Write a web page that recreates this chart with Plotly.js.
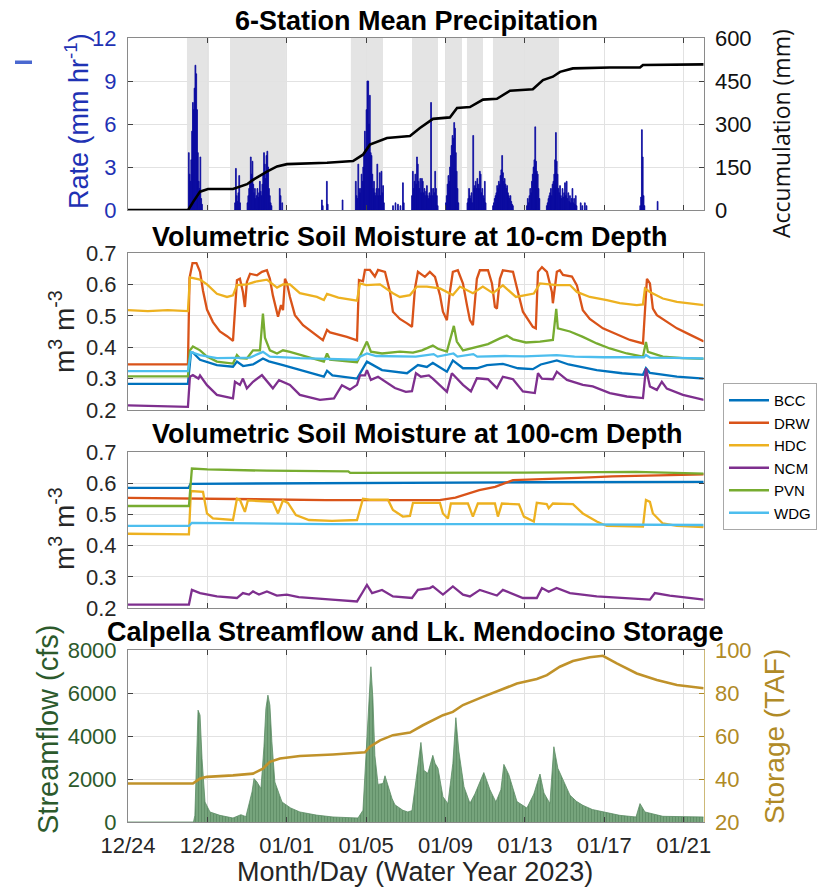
<!DOCTYPE html>
<html><head><meta charset="utf-8">
<script src="https://cdn.plot.ly/plotly-3.0.1.min.js"></script>
<style>html,body{margin:0;padding:0;background:#fff}#chart{width:819px;height:890px}</style>
</head><body><div id="chart"></div>
<script>
// ---------- time helpers (days since 2022-12-24 00:00) ----------
const T0 = Date.UTC(2022, 11, 24);
const DAY = 86400000;
function t(d) { return T0 + d * DAY; }

// ---------- x ticks ----------
const tickDays = [0, 4, 8, 12, 16, 20, 24, 28];
const tickLabels = ['12/24', '12/28', '01/01', '01/05', '01/09', '01/13', '01/17', '01/21'];

// ---------- panel 1: precipitation ----------
// hourly rate events: start hour and consecutive hourly values (mm/hr)
const precipEventStart = [73, 129, 144, 183, 186, 234, 240, 259, 275, 320, 323, 326, 329, 332, 343, 384, 410, 441, 482, 506, 547, 549, 552, 554, 619, 640];
const precipEventRates = [
  [4.0, 2.5, 2.0, 3.5, 5.5, 7.5, 7.0, 8.5, 10.1, 9.5, 7.0, 4.0, 2.0, 1.5, 3.7, 0.8, 0.4],
  [0.5, 2.9, 1.0, 0.6, 1.2, 2.4, 0.5],
  [0.5, 1.0, 1.5, 2.0, 3.7, 2.5, 3.4, 1.8, 1.2, 1.5, 0.8, 1.0, 1.5, 0.9, 1.2, 2.0, 1.3, 1.0, 1.8, 2.5, 4.0, 3.2, 2.2, 3.8, 4.1, 3.0, 1.5, 1.0, 0.5, 0.3],
  [1.5, 1.0],
  [0.5],
  [0.7, 0.3],
  [2.0, 0.4],
  [0.7],
  [2.0, 1.0, 0.8, 3.2, 1.5, 1.2, 1.5, 2.5, 2.0, 3.0, 3.8, 5.5, 4.0, 7.0, 9.0, 9.0, 6.0, 8.0, 4.0, 3.8, 2.5, 1.5, 2.0, 1.2, 1.0, 1.5, 3.2, 1.0, 1.5, 2.6, 1.0, 2.7, 1.2, 1.7, 0.5],
  [0.3], [0.5], [0.4], [0.3],
  [1.9, 0.5],
  [1.0, 2.7, 1.5, 2.0, 2.5, 1.8, 3.7, 3.2, 2.0, 1.5, 2.2, 1.2, 2.2, 2.0, 1.2, 1.5, 1.0, 1.3, 1.7, 1.0, 0.8, 1.2, 1.0, 7.5, 1.5, 1.0, 1.5, 1.2, 2.7, 1.5, 1.0, 0.3],
  [0.5, 1.0, 1.8, 2.4, 2.0, 3.0, 3.8, 4.5, 5.2, 5.0, 6.1, 5.7, 4.0, 2.7, 1.5, 0.5],
  [0.5, 0.8, 1.5, 1.0, 0.8, 1.2, 0.5, 5.2, 1.5, 1.7, 2.0, 1.5, 2.2, 1.8, 1.5, 2.7, 2.5, 1.2, 1.5, 1.0, 0.8, 2.0, 0.5],
  [0.3, 0.5, 0.8, 1.0, 1.2, 1.7, 1.5, 2.0, 1.8, 2.4, 2.8, 3.8, 2.6, 2.0, 2.2, 1.8, 1.5, 1.7, 1.2, 1.0, 0.8, 1.0, 0.6, 0.4, 0.3],
  [0.3, 0.8, 0.5, 1.0, 1.5, 1.2, 2.0, 2.5, 3.0, 3.5, 5.8, 3.4, 2.7, 2.5, 1.5, 0.8],
  [0.3, 0.5, 0.8, 1.0, 1.2, 1.5, 1.0, 1.8, 2.0, 2.5, 3.5, 5.4, 3.4, 2.5, 1.5, 1.2, 1.7, 1.0, 0.8, 1.5, 0.9, 1.2, 1.9, 1.0, 2.0, 0.8, 1.2, 0.6, 1.0, 0.5, 0.8, 1.5, 0.5, 0.8, 0.4, 1.0, 0.3],
  [0.5], [0.3], [0.5], [0.3],
  [0.3, 0.9, 5.6, 3.7, 1.0, 0.3],
  [0.6]
];
// cumulative precipitation (mm)
const accumDay = [0, 3.03, 3.3, 3.63, 4.03, 5.29, 6.0, 6.3, 7.0, 7.51, 8.01, 10.03, 11.34, 11.84, 12.19, 13.05, 14.21, 14.71, 15.37, 16.22, 16.58, 17.23, 17.89, 18.59, 19.25, 20.4, 20.91, 21.41, 21.77, 22.42, 24.28, 25.8, 25.95, 28.82, 29.02];
const accumMM = [0, 0, 30, 64, 73, 73, 90, 105, 134, 152, 160, 165, 171, 193, 228, 251, 258, 286, 318, 323, 356, 359, 385, 388, 416, 421, 453, 465, 482, 494, 497, 497, 506, 508, 508];
// shaded periods (days)
const bandStart = [2.97, 5.14, 11.23, 14.31, 16.02, 17.08, 18.39];
const bandEnd = [4.08, 7.96, 12.85, 15.62, 16.83, 17.89, 21.72];

// ---------- panel 2: soil moisture 10 cm ----------
const stations = ['BCC', 'DRW', 'HDC', 'NCM', 'PVN', 'WDG'];
const stationColors = ['#0072BD', '#D95319', '#EDB120', '#7E2F8E', '#77AC30', '#4DBEEE'];

const bcc10Day = [0, 3.02, 3.17, 3.27, 3.63, 4.48, 5.29, 5.49, 5.8, 6.3, 6.8, 7.1, 7.81, 8.66, 9.52, 9.87, 10.03, 10.3, 11.54, 12.04, 12.8, 13.5, 14.06, 14.61, 15.06, 15.36, 16.07, 16.37, 16.88, 17.58, 18.09, 18.89, 19.65, 20.4, 20.8, 21.61, 22.2, 23.62, 24.9, 25.95, 26.1, 26.3, 27.66, 29.02];
const bcc10Val = [0.283, 0.283, 0.38, 0.383, 0.36, 0.343, 0.338, 0.354, 0.34, 0.345, 0.364, 0.355, 0.343, 0.327, 0.311, 0.306, 0.325, 0.31, 0.30, 0.354, 0.327, 0.322, 0.317, 0.343, 0.337, 0.35, 0.322, 0.358, 0.333, 0.333, 0.343, 0.347, 0.333, 0.33, 0.345, 0.358, 0.345, 0.327, 0.317, 0.312, 0.333, 0.318, 0.306, 0.30];

const drw10Day = [0, 3.02, 3.1, 3.25, 3.45, 3.63, 3.78, 3.98, 4.28, 4.63, 4.99, 5.29, 5.49, 5.64, 5.79, 5.89, 5.99, 6.15, 6.5, 6.75, 7.0, 7.15, 7.3, 7.51, 7.56, 7.71, 7.81, 7.91, 8.01, 8.16, 8.41, 8.82, 9.52, 9.82, 10.03, 10.18, 11.03, 11.54, 11.64, 11.84, 11.94, 12.19, 12.44, 12.6, 12.95, 13.2, 13.35, 13.7, 14.06, 14.31, 14.46, 14.61, 14.96, 15.21, 15.47, 15.72, 15.87, 16.07, 16.22, 16.37, 16.62, 16.88, 17.08, 17.23, 17.38, 17.58, 17.73, 18.14, 18.34, 18.49, 18.59, 18.74, 18.89, 19.4, 19.65, 19.9, 20.4, 20.55, 20.66, 20.86, 21.11, 21.36, 21.41, 21.61, 21.76, 21.92, 22.37, 22.62, 22.92, 23.27, 23.93, 24.63, 25.29, 25.95, 26.05, 26.15, 26.3, 26.45, 26.65, 27.15, 27.66, 28.31, 29.02];
const drw10Val = [0.345, 0.345, 0.62, 0.668, 0.668, 0.64, 0.58, 0.52, 0.48, 0.45, 0.435, 0.42, 0.613, 0.618, 0.576, 0.528, 0.608, 0.634, 0.629, 0.64, 0.645, 0.618, 0.565, 0.507, 0.497, 0.534, 0.518, 0.618, 0.603, 0.56, 0.502, 0.47, 0.438, 0.422, 0.455, 0.447, 0.433, 0.422, 0.614, 0.61, 0.646, 0.646, 0.625, 0.646, 0.64, 0.577, 0.513, 0.49, 0.476, 0.465, 0.587, 0.64, 0.624, 0.64, 0.624, 0.566, 0.513, 0.486, 0.576, 0.64, 0.645, 0.603, 0.534, 0.486, 0.47, 0.618, 0.645, 0.645, 0.603, 0.528, 0.523, 0.618, 0.645, 0.64, 0.576, 0.513, 0.465, 0.46, 0.64, 0.655, 0.64, 0.576, 0.54, 0.64, 0.645, 0.63, 0.625, 0.597, 0.518, 0.49, 0.46, 0.44, 0.423, 0.412, 0.523, 0.618, 0.603, 0.523, 0.502, 0.48, 0.46, 0.44, 0.418];

const hdc10Day = [0, 1.0, 2.0, 3.02, 3.12, 3.63, 3.98, 4.48, 4.99, 5.29, 5.49, 6.0, 6.5, 7.0, 7.51, 7.81, 8.16, 8.66, 9.52, 9.87, 10.03, 10.6, 11.54, 11.69, 12.0, 12.7, 13.35, 13.7, 14.21, 14.56, 15.06, 15.72, 16.37, 16.73, 17.38, 17.88, 18.39, 18.89, 19.55, 20.45, 20.76, 21.61, 22.27, 22.62, 23.27, 24.13, 24.78, 25.64, 25.95, 26.05, 26.3, 26.95, 27.66, 28.31, 29.02];
const hdc10Val = [0.518, 0.515, 0.518, 0.515, 0.622, 0.615, 0.60, 0.57, 0.56, 0.565, 0.598, 0.60, 0.61, 0.615, 0.59, 0.60, 0.60, 0.572, 0.56, 0.55, 0.57, 0.558, 0.548, 0.603, 0.598, 0.60, 0.572, 0.56, 0.566, 0.593, 0.593, 0.587, 0.566, 0.593, 0.572, 0.593, 0.572, 0.597, 0.56, 0.571, 0.603, 0.598, 0.598, 0.576, 0.56, 0.55, 0.54, 0.534, 0.536, 0.587, 0.576, 0.555, 0.544, 0.539, 0.534];

const ncm10Day = [0, 3.02, 3.12, 3.27, 3.55, 3.63, 3.98, 4.48, 5.29, 5.39, 5.64, 5.79, 5.99, 6.3, 6.75, 7.3, 7.61, 8.16, 8.66, 9.67, 10.38, 10.78, 11.18, 11.54, 11.69, 11.94, 12.04, 12.24, 12.6, 12.95, 13.45, 14.0, 14.31, 14.51, 14.76, 15.16, 15.36, 16.07, 16.32, 16.88, 17.28, 17.58, 18.14, 18.59, 18.89, 19.4, 19.9, 20.5, 20.66, 20.86, 21.41, 21.61, 22.12, 22.92, 23.42, 24.28, 25.14, 25.95, 26.1, 26.3, 26.65, 26.9, 27.15, 27.96, 29.02];
const ncm10Val = [0.215, 0.21, 0.306, 0.311, 0.30, 0.31, 0.279, 0.248, 0.237, 0.29, 0.28, 0.30, 0.269, 0.29, 0.311, 0.269, 0.295, 0.28, 0.248, 0.232, 0.237, 0.279, 0.265, 0.28, 0.31, 0.31, 0.327, 0.296, 0.306, 0.29, 0.27, 0.258, 0.26, 0.317, 0.306, 0.31, 0.30, 0.258, 0.317, 0.28, 0.259, 0.301, 0.298, 0.27, 0.306, 0.298, 0.259, 0.254, 0.317, 0.30, 0.298, 0.322, 0.296, 0.28, 0.275, 0.254, 0.243, 0.238, 0.333, 0.275, 0.264, 0.29, 0.268, 0.248, 0.232];

const pvn10Day = [0, 3.02, 3.12, 3.27, 3.63, 3.98, 4.48, 5.29, 5.49, 5.64, 5.99, 6.3, 6.65, 6.8, 6.9, 7.15, 7.51, 7.81, 8.16, 9.52, 9.87, 10.03, 10.18, 11.54, 12.04, 12.24, 12.8, 13.7, 14.36, 14.81, 15.36, 15.62, 16.07, 16.42, 16.57, 16.88, 17.63, 18.14, 18.74, 19.09, 19.4, 20.05, 20.76, 21.41, 21.58, 21.66, 22.27, 22.92, 23.62, 24.28, 25.14, 25.95, 26.1, 26.2, 26.95, 27.96, 29.02];
const pvn10Val = [0.307, 0.307, 0.39, 0.402, 0.39, 0.37, 0.354, 0.348, 0.375, 0.365, 0.364, 0.39, 0.39, 0.507, 0.43, 0.39, 0.38, 0.39, 0.385, 0.36, 0.354, 0.38, 0.36, 0.352, 0.418, 0.386, 0.38, 0.386, 0.383, 0.39, 0.405, 0.395, 0.386, 0.468, 0.418, 0.39, 0.402, 0.41, 0.428, 0.437, 0.425, 0.415, 0.418, 0.423, 0.522, 0.46, 0.45, 0.433, 0.412, 0.396, 0.38, 0.37, 0.417, 0.385, 0.37, 0.365, 0.363];

const wdg10Day = [0, 3.02, 3.17, 3.63, 4.48, 5.29, 6.15, 6.8, 7.15, 8.66, 10.18, 11.54, 11.69, 12.04, 12.5, 13.7, 14.5, 15.4, 15.6, 16.4, 16.6, 17.4, 17.6, 19.0, 20.0, 21.6, 22.5, 24.0, 26.0, 26.1, 26.3, 27.5, 29.02];
const wdg10Val = [0.324, 0.324, 0.385, 0.375, 0.365, 0.365, 0.367, 0.385, 0.37, 0.365, 0.362, 0.36, 0.37, 0.38, 0.372, 0.37, 0.37, 0.378, 0.37, 0.38, 0.37, 0.378, 0.37, 0.372, 0.371, 0.375, 0.37, 0.368, 0.368, 0.375, 0.367, 0.366, 0.364];

// ---------- panel 3: soil moisture 100 cm ----------
const bcc100Day = [0, 3.05, 3.15, 10, 20, 29.02];
const bcc100Val = [0.585, 0.585, 0.598, 0.601, 0.603, 0.604];
const drw100Day = [0, 5, 10, 15.7, 16.5, 17.7, 18.5, 19.4, 21.0, 22.7, 24.4, 29.02];
const drw100Val = [0.553, 0.549, 0.546, 0.546, 0.554, 0.578, 0.588, 0.61, 0.613, 0.617, 0.622, 0.628];
const hdc100Day = [0, 3.07, 3.17, 3.78, 3.98, 4.28, 5.29, 5.49, 5.64, 5.89, 6.04, 7.3, 7.56, 7.81, 8.06, 8.46, 9.12, 10.28, 11.54, 11.84, 12.19, 13.1, 13.35, 13.85, 14.21, 14.36, 15.72, 15.87, 16.12, 16.27, 17.13, 17.38, 17.63, 18.49, 18.64, 18.84, 19.7, 19.95, 20.45, 20.6, 21.1, 21.2, 21.41, 22.42, 22.92, 23.62, 24.13, 25.95, 26.1, 26.3, 26.45, 26.95, 27.66, 29.02];
const hdc100Val = [0.438, 0.436, 0.575, 0.572, 0.503, 0.487, 0.482, 0.55, 0.547, 0.508, 0.545, 0.54, 0.503, 0.545, 0.537, 0.498, 0.482, 0.479, 0.482, 0.55, 0.547, 0.547, 0.514, 0.493, 0.495, 0.537, 0.537, 0.503, 0.487, 0.535, 0.535, 0.493, 0.535, 0.535, 0.493, 0.535, 0.532, 0.493, 0.477, 0.537, 0.533, 0.52, 0.535, 0.533, 0.503, 0.477, 0.463, 0.461, 0.546, 0.54, 0.503, 0.471, 0.463, 0.459];
const ncm100Day = [0, 3.07, 3.22, 3.63, 4.48, 5.49, 5.79, 6.1, 6.3, 6.6, 7.0, 7.5, 8.0, 8.6, 10.28, 11.54, 11.8, 12.04, 12.3, 12.8, 13.35, 14.31, 14.61, 15.21, 15.36, 15.87, 16.37, 16.88, 17.23, 17.73, 18.59, 18.89, 19.9, 20.6, 20.86, 21.2, 21.6, 22.27, 23.62, 25.14, 26.3, 26.55, 27.3, 29.02];
const ncm100Val = [0.211, 0.211, 0.258, 0.248, 0.237, 0.232, 0.248, 0.243, 0.253, 0.243, 0.253, 0.24, 0.243, 0.235, 0.227, 0.221, 0.248, 0.274, 0.248, 0.258, 0.237, 0.232, 0.258, 0.264, 0.269, 0.243, 0.269, 0.243, 0.237, 0.258, 0.24, 0.258, 0.232, 0.232, 0.264, 0.252, 0.264, 0.248, 0.237, 0.232, 0.227, 0.248, 0.24, 0.227];
const pvn100Day = [0, 3.07, 3.22, 4.0, 7.0, 10.0, 11.1, 11.2, 14.0, 20.0, 25.6, 29.02];
const pvn100Val = [0.527, 0.527, 0.647, 0.644, 0.64, 0.64, 0.638, 0.633, 0.633, 0.634, 0.636, 0.631];
const wdg100Day = [0, 3.07, 3.22, 10, 20, 29.02];
const wdg100Val = [0.463, 0.463, 0.473, 0.469, 0.469, 0.466];

// ---------- panel 4: streamflow and storage ----------
const flowDay = [0, 3.3, 3.37, 3.48, 3.53, 3.63, 3.73, 3.88, 4.13, 4.63, 5.29, 5.69, 5.94, 6.25, 6.35, 6.5, 6.7, 6.85, 6.95, 7.05, 7.15, 7.25, 7.4, 7.76, 8.2, 8.66, 9.5, 10.33, 11.59, 11.84, 12.04, 12.14, 12.24, 12.34, 12.44, 12.6, 12.85, 12.95, 13.1, 13.3, 13.45, 13.85, 14.1, 14.31, 14.56, 14.76, 14.91, 15.11, 15.36, 15.47, 15.62, 15.87, 16.12, 16.37, 16.52, 16.67, 16.93, 17.23, 17.48, 17.73, 17.93, 18.24, 18.54, 18.79, 18.94, 19.19, 19.6, 20.1, 20.45, 20.76, 20.96, 21.26, 21.46, 21.66, 21.86, 22.27, 22.6, 22.92, 23.4, 23.93, 24.78, 25.6, 25.8, 26.05, 26.95, 29.02];
const flowCfs = [0, 0, 310, 4190, 5200, 4970, 2950, 930, 466, 310, 186, 340, 250, 1400, 2020, 1860, 1550, 3500, 5280, 5900, 5435, 3730, 1860, 930, 650, 466, 320, 233, 186, 545, 3730, 5125, 7220, 5750, 3100, 1750, 1790, 2150, 1650, 1100, 800, 545, 466, 530, 2265, 3700, 2400, 2265, 3100, 2730, 2500, 1180, 850, 2730, 4850, 3300, 1640, 870, 1300, 1900, 2300, 1500, 930, 1500, 2680, 2200, 950, 650, 1300, 2230, 1350, 860, 3500, 2500, 2100, 1250, 960, 777, 580, 466, 310, 233, 855, 466, 264, 233];
const storageDay = [0, 3.27, 3.63, 3.98, 5.29, 6.3, 6.8, 7.15, 7.66, 8.66, 10.33, 11.94, 12.19, 12.7, 13.35, 14.21, 14.86, 15.87, 16.37, 16.88, 17.88, 18.74, 19.6, 20.6, 21.11, 21.76, 22.42, 23.27, 23.93, 24.63, 25.64, 26.65, 27.66, 29.02];
const storageTAF = [37.9, 37.9, 40.2, 41, 41.7, 42.5, 44.8, 48, 49.5, 50.7, 51.4, 52.4, 55, 58, 60.4, 61.6, 65, 69.7, 71.2, 74.4, 78.2, 81.3, 84.4, 86.5, 88.3, 92.2, 94.9, 96.6, 97.3, 93.8, 89.1, 86, 83.7, 82.2];

// ---------- build ----------
const precipX = [], precipY = [];
precipEventStart.forEach((h0, i) => {
  precipEventRates[i].forEach((v, k) => { precipX.push(t((h0 + k + 0.5) / 24)); precipY.push(v); });
});

const W = 819, H = 890;
const px = x => x / W, py = y => 1 - y / H;
const XD = [px(128), px(703.5)];
const FONT = 'Liberation Sans, Arial, Helvetica, sans-serif';
const BLUE = '#1f32b4', GREEN = '#2c5a2c', GOLD = '#b08a26';

const xBase = {
  type: 'date', domain: XD, range: [t(0), t(29)],
  tickvals: tickDays.map(t), ticktext: tickLabels,
  showgrid: true, gridcolor: '#e2e2e2', gridwidth: 1,
  showline: true, linecolor: '#8a8a8a', linewidth: 1, mirror: 'ticks',
  ticks: 'inside', ticklen: 5, tickcolor: '#404040', zeroline: false,
  showticklabels: false, fixedrange: true
};
const yBase = {
  showgrid: true, gridcolor: '#e2e2e2', gridwidth: 1,
  showline: true, linecolor: '#8a8a8a', linewidth: 1,
  ticks: 'inside', ticklen: 5, tickcolor: '#404040', zeroline: false,
  tickfont: { size: 22, color: '#262626' }, ticklabelstandoff: 6, fixedrange: true
};

const traces = [];
traces.push({ type: 'bar', x: precipX, y: precipY, width: 3600000, xaxis: 'x', yaxis: 'y',
  marker: { color: '#0a0aa0', line: { color: '#0a0aa0', width: 0.8 } }, showlegend: false, hoverinfo: 'skip' });
traces.push({ type: 'scatter', mode: 'lines', x: accumDay.map(t), y: accumMM, xaxis: 'x', yaxis: 'y2',
  line: { color: '#000', width: 2.6 }, showlegend: false });

const s10 = [[bcc10Day, bcc10Val], [drw10Day, drw10Val], [hdc10Day, hdc10Val], [ncm10Day, ncm10Val], [pvn10Day, pvn10Val], [wdg10Day, wdg10Val]];
const s100 = [[bcc100Day, bcc100Val], [drw100Day, drw100Val], [hdc100Day, hdc100Val], [ncm100Day, ncm100Val], [pvn100Day, pvn100Val], [wdg100Day, wdg100Val]];
s10.forEach((s, i) => traces.push({ type: 'scatter', mode: 'lines', name: stations[i], x: s[0].map(t), y: s[1],
  xaxis: 'x2', yaxis: 'y3', line: { color: stationColors[i], width: 2.3 } }));
s100.forEach((s, i) => traces.push({ type: 'scatter', mode: 'lines', name: stations[i], x: s[0].map(t), y: s[1],
  xaxis: 'x3', yaxis: 'y4', line: { color: stationColors[i], width: 2.3 }, showlegend: false }));

traces.push({ type: 'scatter', mode: 'lines', x: flowDay.map(t), y: flowCfs, xaxis: 'x4', yaxis: 'y5',
  fill: 'tozeroy', fillcolor: 'rgb(118,164,124)',
  fillpattern: { shape: '|', fgcolor: 'rgb(72,120,82)', size: 3, solidity: 0.3, fillmode: 'overlay' },
  line: { color: '#5a8c63', width: 0.8 }, showlegend: false });
traces.push({ type: 'scatter', mode: 'lines', x: storageDay.map(t), y: storageTAF, xaxis: 'x4', yaxis: 'y6',
  line: { color: '#c0922a', width: 2.6 }, showlegend: false });

const shapes = bandStart.map((b, i) => ({ type: 'rect', xref: 'x', yref: 'y domain', x0: t(b), x1: t(bandEnd[i]), y0: 0, y1: 1,
  fillcolor: '#e4e4e4', line: { width: 0 }, layer: 'below' }));
shapes.push({ type: 'rect', xref: 'paper', yref: 'paper', x0: px(15), x1: px(32), y0: py(64), y1: py(60.5),
  fillcolor: '#4a68d0', line: { width: 0 } });

function ann(text, x, y, size, opts) {
  return Object.assign({ text, xref: 'paper', yref: 'paper', x: px(x), y: py(y), xanchor: 'center', yanchor: 'middle',
    showarrow: false, font: { family: FONT, size, color: '#000' } }, opts || {});
}
const annotations = [
  ann('<b>6-Station Mean Precipitation</b>', 416, 21, 27),
  ann('<b>Volumetric Soil Moisture at 10-cm Depth</b>', 410, 237, 27),
  ann('<b>Volumetric Soil Moisture at 100-cm Depth</b>', 418, 434, 27),
  ann('<b>Calpella Streamflow and Lk. Mendocino Storage</b>', 415, 632, 27),
  ann('Month/Day (Water Year 2023)', 415, 872, 27, { font: { family: FONT, size: 27, color: '#262626' } }),
  ann('Rate (mm hr<sup>-1</sup>)', 77, 121, 27, { textangle: -90, font: { family: FONT, size: 27, color: BLUE } }),
  ann('Accumulation (mm)', 781, 134, 23, { textangle: -90, font: { family: 'Open Sans, Noto Sans, sans-serif', size: 23, color: '#111' } }),
  ann('m<sup>3</sup> m<sup>-3</sup>', 62, 331, 28, { textangle: -90, font: { family: FONT, size: 28, color: '#262626' } }),
  ann('m<sup>3</sup> m<sup>-3</sup>', 62, 528, 28, { textangle: -90, font: { family: FONT, size: 28, color: '#262626' } }),
  ann('Streamflow (cfs)', 48, 730, 29, { textangle: -90, font: { family: FONT, size: 29, color: GREEN } }),
  ann('Storage (TAF)', 774, 737, 28, { textangle: -90, font: { family: FONT, size: 28, color: GOLD } })
];

const layout = {
  width: W, height: H, margin: { l: 0, r: 0, t: 0, b: 0 },
  paper_bgcolor: '#fff', plot_bgcolor: '#fff',
  font: { family: FONT, size: 22, color: '#262626' },
  showlegend: true,
  legend: { x: px(723), y: py(383), xanchor: 'left', yanchor: 'top', bgcolor: '#fff',
    bordercolor: '#a8a8a8', borderwidth: 1, font: { family: FONT, size: 15, color: '#000' }, itemwidth: 40 },
  xaxis: Object.assign({}, xBase, { anchor: 'y' }),
  yaxis: Object.assign({}, yBase, { domain: [py(210), py(38)], anchor: 'x', range: [0, 12], tickvals: [0, 3, 6, 9, 12], ticktext: ['0', '3', '6', '9', '12'],
    tickfont: { size: 22, color: BLUE } }),
  yaxis2: Object.assign({}, yBase, { overlaying: 'y', side: 'right', anchor: 'x', range: [0, 600], tickvals: [0, 150, 300, 450, 600], ticktext: ['0', '150', '300', '450', '600'],
    showgrid: false, tickfont: { size: 22, color: '#111' } }),
  xaxis2: Object.assign({}, xBase, { anchor: 'y3' }),
  yaxis3: Object.assign({}, yBase, { domain: [py(410), py(253)], anchor: 'x2', range: [0.2, 0.7], mirror: 'ticks',
    tickvals: [0.2, 0.3, 0.4, 0.5, 0.6, 0.7], ticktext: ['0.2', '0.3', '0.4', '0.5', '0.6', '0.7'] }),
  xaxis3: Object.assign({}, xBase, { anchor: 'y4' }),
  yaxis4: Object.assign({}, yBase, { domain: [py(608), py(452)], anchor: 'x3', range: [0.2, 0.7], mirror: 'ticks',
    tickvals: [0.2, 0.3, 0.4, 0.5, 0.6, 0.7], ticktext: ['0.2', '0.3', '0.4', '0.5', '0.6', '0.7'] }),
  xaxis4: Object.assign({}, xBase, { anchor: 'y5', showticklabels: true, tickfont: { size: 22, color: '#262626' }, ticklabelstandoff: 4 }),
  yaxis5: Object.assign({}, yBase, { domain: [py(822), py(650)], anchor: 'x4', range: [0, 8000], tickvals: [0, 2000, 4000, 6000, 8000],
    ticktext: ['0', '2000', '4000', '6000', '8000'], tickfont: { size: 22, color: GREEN } }),
  yaxis6: Object.assign({}, yBase, { overlaying: 'y5', side: 'right', anchor: 'x4', range: [20, 100], tickvals: [20, 40, 60, 80, 100],
    ticktext: ['20', '40', '60', '80', '100'], showgrid: false, linecolor: '#cdb978', tickcolor: GOLD, tickfont: { size: 22, color: GOLD } }),
  shapes, annotations
};

Plotly.newPlot('chart', traces, layout, { displayModeBar: false, staticPlot: true });
</script></body></html>
